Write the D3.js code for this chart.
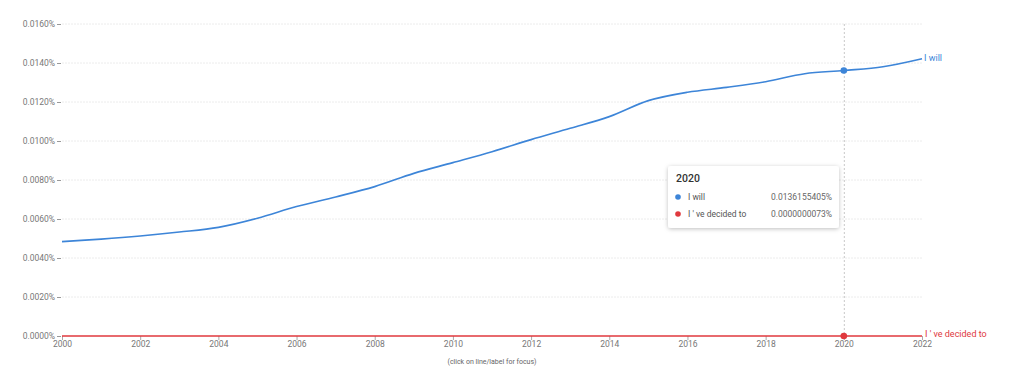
<!DOCTYPE html>
<html><head><meta charset="utf-8">
<script src="https://cdn.jsdelivr.net/npm/d3@7"></script>
<style>
html,body{margin:0;padding:0;background:#fff;}
svg{display:block;font-family:Roboto,"Noto Sans",Arial,sans-serif;}
</style></head>
<body>
<svg id="chart" width="1024" height="378"></svg>
<script>
const years = [2000,2001,2002,2003,2004,2005,2006,2007,2008,2009,2010,2011,2012,2013,2014,2015,2016,2017,2018,2019,2020,2021,2022];
// values in percent units
const iWill = [0.00484,0.00497,0.00513,0.00533,0.00557,0.00604,0.00664,0.00713,0.00766,0.00834,0.00889,0.00945,0.01007,0.01065,0.01125,0.01207,0.01250,0.01275,0.01304,0.01345,0.0136155405,0.01381,0.01422];
const iveDecided = [0.0000000070,0.0000000070,0.0000000071,0.0000000071,0.0000000072,0.0000000072,0.0000000072,0.0000000073,0.0000000073,0.0000000073,0.0000000073,0.0000000073,0.0000000073,0.0000000073,0.0000000073,0.0000000073,0.0000000073,0.0000000073,0.0000000073,0.0000000073,0.0000000073,0.0000000073,0.0000000073];
const seriesNames = ["I will", "I ' ve decided to"];
const seriesColors = ["#3d85d8", "#e0393e"];
const yTicks = [0,0.002,0.004,0.006,0.008,0.010,0.012,0.014,0.016];
const xTicks = [2000,2002,2004,2006,2008,2010,2012,2014,2016,2018,2020,2022];
const focusYear = 2020;
const tooltipValues = ["0.0136155405%", "0.0000000073%"];

const svg = d3.select("#chart");
const x = d3.scaleLinear().domain([2000,2022]).range([62,922]);
const y = d3.scaleLinear().domain([0,0.016]).range([336,24]);

// gridlines
svg.append("g").selectAll("line").data(yTicks.filter(d=>d>0)).join("line")
  .attr("x1",62).attr("x2",922).attr("y1",d=>y(d)).attr("y2",d=>y(d))
  .attr("stroke","#ececec").attr("stroke-width",1).attr("stroke-dasharray","2,1");

// y axis labels + ticks
const yg = svg.append("g");
yg.selectAll("text").data(yTicks).join("text")
  .attr("x",55).attr("y",d=>y(d)+3).attr("text-anchor","end")
  .attr("font-size",8.5).attr("fill","#777")
  .text(d=>d.toFixed(4)+"%");
yg.selectAll("line").data(yTicks).join("line")
  .attr("x1",57).attr("x2",61).attr("y1",d=>y(d)+0.5).attr("y2",d=>y(d)+0.5)
  .attr("stroke","#999").attr("stroke-width",1);

// x axis
const xAxis = d3.axisBottom(x).tickValues(xTicks).tickFormat(d3.format("d")).tickSize(4).tickSizeOuter(0);
const xg = svg.append("g").attr("transform","translate(0,336)").call(xAxis);
xg.select(".domain").remove();
xg.selectAll(".tick line").attr("stroke","#aaa");
xg.selectAll(".tick text").attr("font-size",8.5).attr("fill","#777").attr("dy","0.5em").attr("font-family","Roboto,sans-serif");

svg.append("text").attr("x",492).attr("y",364).attr("text-anchor","middle")
  .attr("font-size",7).attr("fill","#666").text("(click on line/label for focus)");

// focus vertical line
svg.append("line").attr("x1",x(focusYear)+0.5).attr("x2",x(focusYear)+0.5).attr("y1",24).attr("y2",336)
  .attr("stroke","#c8c8c8").attr("stroke-width",1).attr("stroke-dasharray","2,2");

const line = d3.line().x((d,i)=>x(years[i])).y(d=>y(d)).curve(d3.curveCatmullRom.alpha(0.5));
const data = [iWill, iveDecided];
data.forEach((vals,k)=>{
  svg.append("path").datum(vals).attr("d",line).attr("fill","none")
    .attr("stroke",seriesColors[k]).attr("stroke-width",1.6);
});
// end labels
svg.append("text").attr("x",x(2022)+2).attr("y",y(iWill[iWill.length-1])+2)
  .attr("font-size",9).attr("fill",seriesColors[0]).text(seriesNames[0]);
svg.append("text").attr("x",x(2022)+3).attr("y",y(iveDecided[iveDecided.length-1])+1)
  .attr("font-size",9).attr("fill",seriesColors[1]).text(seriesNames[1]);

// focus dots
const fi = years.indexOf(focusYear);
data.forEach((vals,k)=>{
  svg.append("circle").attr("cx",x(focusYear)).attr("cy",y(vals[fi])).attr("r",3.3).attr("fill",seriesColors[k]);
});

// tooltip
const defs = svg.append("defs");
const f = defs.append("filter").attr("id","sh").attr("x","-20%").attr("y","-20%").attr("width","140%").attr("height","150%");
f.append("feDropShadow").attr("dx",0).attr("dy",1).attr("stdDeviation",2).attr("flood-color","#000").attr("flood-opacity",0.25);
const tt = svg.append("g").attr("transform","translate(668,166)");
tt.append("rect").attr("width",171).attr("height",62).attr("rx",3).attr("fill","#fff").attr("filter","url(#sh)");
tt.append("text").attr("x",8).attr("y",16).attr("font-size",10.5).attr("font-weight",500).attr("fill","#333").text(String(focusYear));
seriesNames.forEach((n,k)=>{
  const ry = 31 + k*17;
  tt.append("circle").attr("cx",10).attr("cy",ry).attr("r",2.8).attr("fill",seriesColors[k]);
  tt.append("text").attr("x",20).attr("y",ry+3).attr("font-size",8.5).attr("fill","#555").text(n);
  tt.append("text").attr("x",164).attr("y",ry+3).attr("text-anchor","end").attr("font-size",8.5).attr("fill","#666").text(tooltipValues[k]);
});
</script>
</body></html>
